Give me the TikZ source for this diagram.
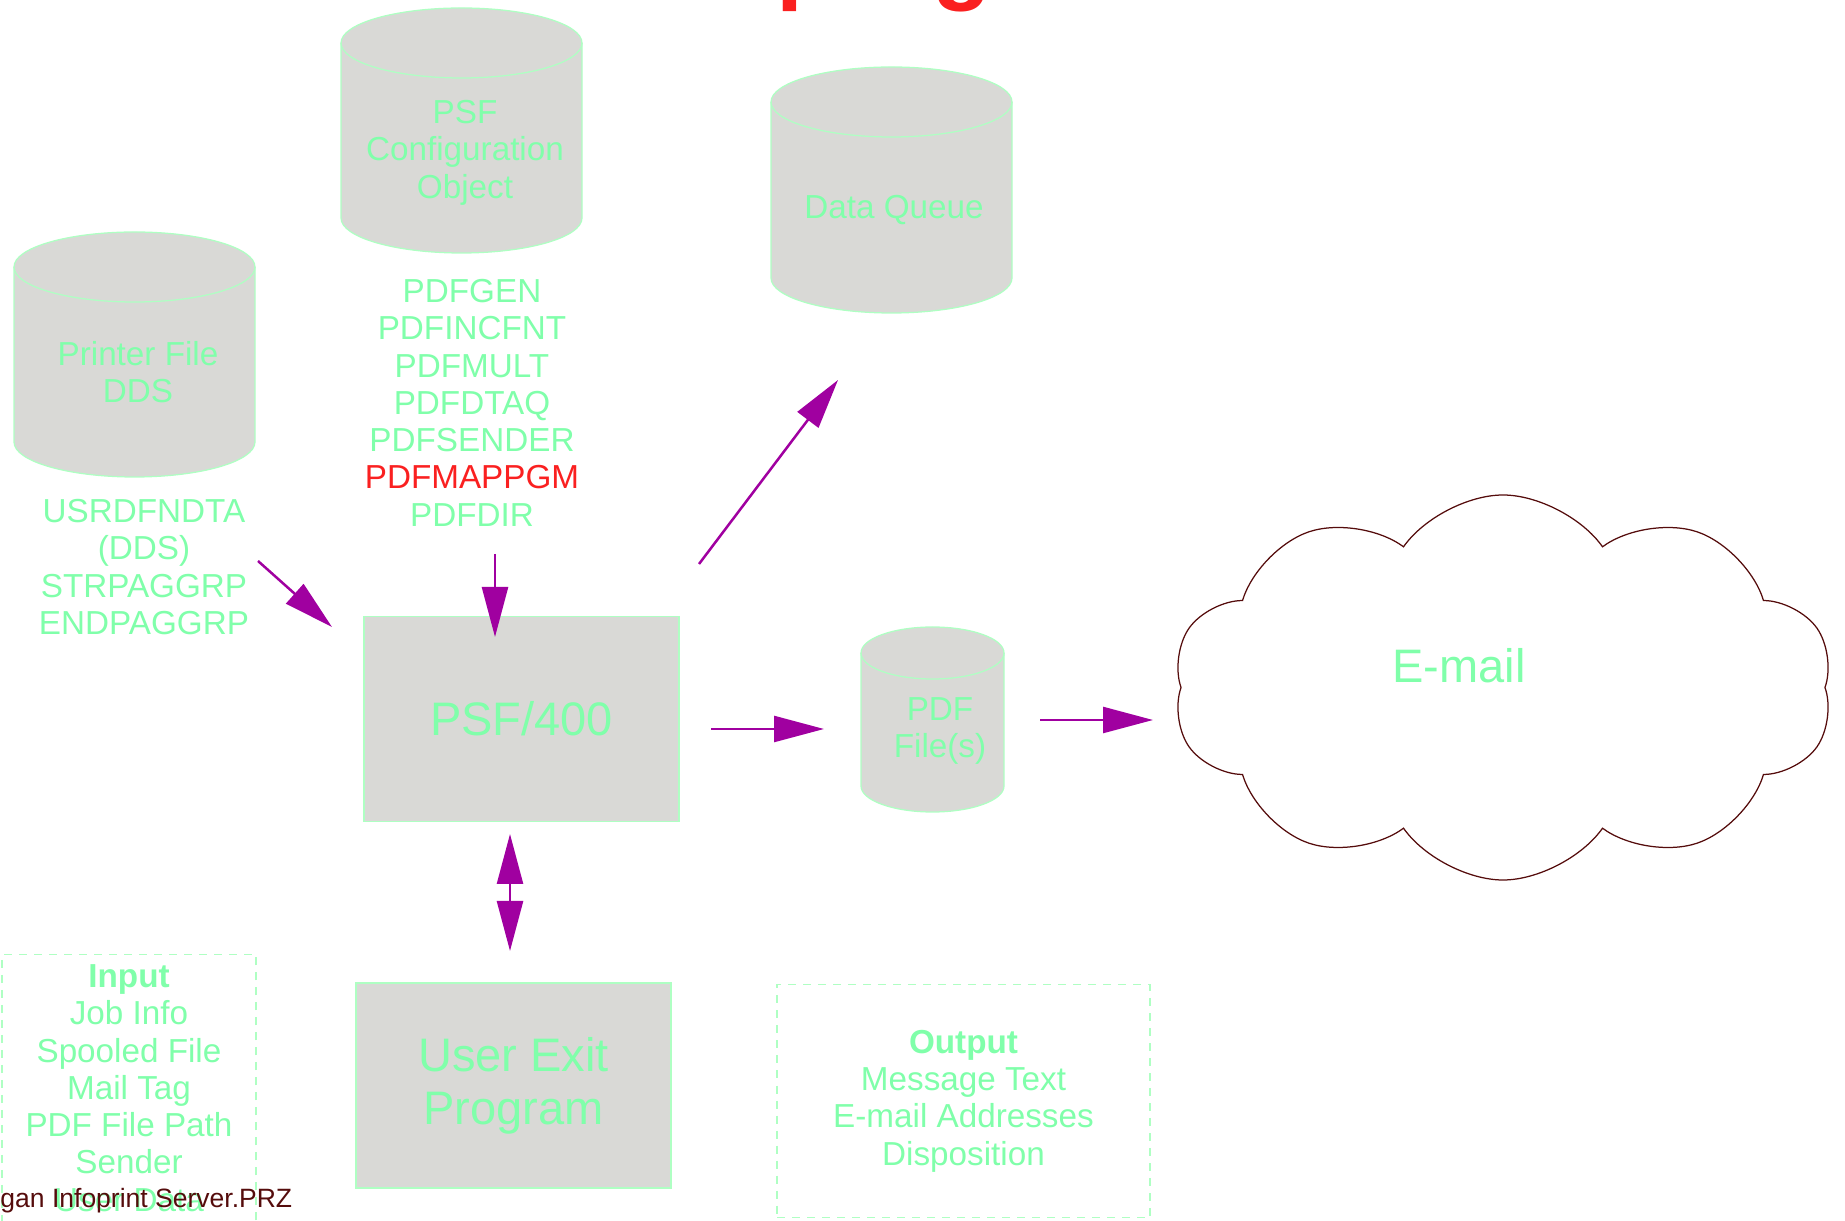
\documentclass[tikz,border=0pt]{standalone}
\usepackage{fontspec}
\setmainfont{Liberation Sans}
\usepackage{tikz}
\usetikzlibrary{arrows.meta,shapes.symbols}

\definecolor{mint}{RGB}{128,255,170}
\definecolor{rim}{RGB}{175,255,195}
\definecolor{boxgray}{RGB}{217,217,214}
\definecolor{flowpurple}{RGB}{160,0,160}
\definecolor{alertred}{RGB}{250,32,32}
\definecolor{darkmaroon}{RGB}{85,12,12}

\newcommand{\smallface}{\fontsize{13.3}{14.9}\selectfont}
\newcommand{\bigface}{\fontsize{18.8}{21.2}\selectfont}
\newcommand{\dbcylinder}[5]{%
 \filldraw[cylbody] (#1-#4,#2) -- (#1-#4,#3) arc[start angle=180,end angle=360,x radius=#4,y radius=#5] -- (#1+#4,#2) arc[start angle=0,end angle=180,x radius=#4,y radius=#5] -- cycle;
 \draw[cylbody,fill=none] (#1-#4,#2) arc[start angle=180,end angle=360,x radius=#4,y radius=#5];}

\tikzset{
 cylbody/.style={draw=rim, fill=boxgray, line width=0.5pt},
 txt/.style={text=mint, font=\smallface, align=center, inner sep=0pt},
 procbox/.style={draw=rim, fill=boxgray, line width=0.5pt, text=mint, font=\bigface, align=center, inner sep=0pt, minimum width=126pt, minimum height=82pt},
 notebox/.style={draw=rim, dash pattern=on 3.2pt off 2.8pt, line width=0.5pt, text=mint, font=\smallface, align=center},
 flow/.style={color=flowpurple, line width=1pt, -{Triangle[length=20pt,width=10.4pt]}},
 bothway/.style={flow, {Triangle[length=20pt,width=10.4pt]}-{Triangle[length=20pt,width=10.4pt]}}
}

\begin{document}
\begin{tikzpicture}[x=0.4pt, y=0.4pt]
\useasboundingbox (0,0) rectangle (1845,1220);
\clip (0,0) rectangle (1845,1220);

\node[text=alertred, font=\fontsize{38.8}{40}\selectfont\bfseries, anchor=base west, inner sep=0pt] (title) at (571,1228) {Exit program};

\dbcylinder{134.5}{953}{778}{120.5}{35}
\dbcylinder{461.5}{1177}{1002}{120.5}{35}
\dbcylinder{891.5}{1118}{942}{120.5}{35}
\dbcylinder{932.5}{567}{434}{71.5}{26}

\node[txt, anchor=north] (prtfile) at (138,879) {Printer File\\DDS};
\node[txt, anchor=north] (ddskeys) at (144,721) {USRDFNDTA\\(DDS)\\STRPAGGRP\\ENDPAGGRP};
\node[txt, anchor=north] (psfcfg) at (465,1120) {PSF\\Configuration\\Object};
\node[txt, anchor=north] (cmds) at (472,941) {PDFGEN\\PDFINCFNT\\PDFMULT\\PDFDTAQ\\PDFSENDER\\\textcolor{alertred}{PDFMAPPGM}\\PDFDIR};
\node[txt, anchor=north] (dtaq) at (894,1025) {Data Queue};
\node[txt, anchor=north] (pdffiles) at (940,523) {PDF\\File(s)};

\node[procbox] (psf) at (521.5,501) {PSF/400};
\node[procbox] (exitpgm) at (513.5,134.5) {User Exit\\Program};

\node[cloud, draw=darkmaroon, line width=0.5pt, cloud puffs=10, cloud puff arc=110, minimum width=264pt, minimum height=154pt, inner sep=0pt] (inet) at (1503,532.5) {};
\node[txt, font=\bigface, anchor=north] (mail) at (1459,572) {E-mail};

\node[notebox, anchor=north, inner sep=4pt, minimum width=101.6pt] (inbox) at (129,266) {\textbf{Input}\\Job Info\\Spooled File\\Mail Tag\\PDF File Path\\Sender\\User Data};
\node[notebox, inner sep=0pt, minimum width=149.2pt, minimum height=93.2pt] (outbox) at (963.5,119) {\textbf{Output}\\Message Text\\E-mail Addresses\\Disposition};

\node[text=darkmaroon, font=\fontsize{10.6}{12}\selectfont, anchor=base west, inner sep=0pt] (footer) at (0,13) {gan Infoprint Server.PRZ};

\coordinate (k1) at (258,659); \coordinate (k2) at (332,593);
\coordinate (c1) at (495,666); \coordinate (c2) at (495,583);
\coordinate (q1) at (699,656); \coordinate (q2) at (838,840);
\coordinate (f1) at (711,491); \coordinate (f2) at (824,491);
\coordinate (m1) at (1040,500); \coordinate (m2) at (1153,500);
\coordinate (u1) at (510,386); \coordinate (u2) at (510,269);

\path
(k1) edge[flow] (k2)
(c1) edge[flow] (c2)
(q1) edge[flow] (q2)
(f1) edge[flow] (f2)
(m1) edge[flow] (m2)
(u1) edge[bothway] (u2);
\end{tikzpicture}
\end{document}
